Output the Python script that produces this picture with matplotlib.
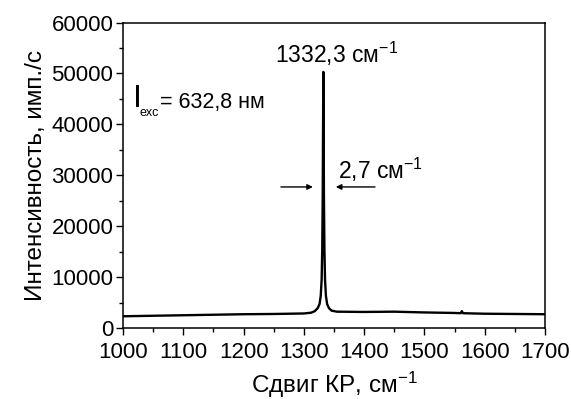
import matplotlib

matplotlib.use("Agg")
import matplotlib.pyplot as plt
from matplotlib.ticker import MultipleLocator

plt.rcParams.update({
    "font.family": ["Liberation Sans", "DejaVu Sans"],
    "mathtext.fontset": "custom",
    "mathtext.rm": "Liberation Sans",
    "mathtext.it": "Liberation Sans",
})

# Raman spectrum (shift in cm^-1, counts/s)
shift = [1000, 1050, 1100, 1150, 1200, 1250, 1300, 1312, 1318, 1323, 1326,
         1328, 1329.5, 1330.5, 1331.3, 1331.9, 1332.3, 1332.7, 1333.3, 1334.1,
         1335.1, 1336.6, 1338.6, 1341.6, 1346, 1355, 1400, 1450, 1500, 1550,
         1560, 1562, 1564, 1600, 1650, 1700]
intensity = [2300, 2400, 2500, 2600, 2700, 2750, 2850, 3000, 3300, 3900, 4700,
             6300, 9500, 15500, 26000, 41000, 50300, 41000, 26000, 15500,
             9500, 6300, 4700, 3900, 3400, 3200, 3150, 3200, 3050, 2950,
             2900, 3300, 2900, 2800, 2750, 2700]

peak_label = "1332,3 см$^{-1}$"
fwhm_label = "2,7 см$^{-1}$"

fig = plt.figure(figsize=(5.71, 3.99), dpi=100)
ax = fig.add_axes([0.2154, 0.178, 0.7391, 0.7656])
ax.plot(shift, intensity, color="black", lw=1.7)

ax.set_xlim(1000, 1700)
ax.set_ylim(0, 60000)
ax.xaxis.set_major_locator(MultipleLocator(100))
ax.xaxis.set_minor_locator(MultipleLocator(50))
ax.yaxis.set_major_locator(MultipleLocator(10000))
ax.yaxis.set_minor_locator(MultipleLocator(5000))
ax.tick_params(which="major", direction="out", length=5, width=1, labelsize=16, pad=2)
ax.tick_params(axis="x", which="major", pad=5)
ax.tick_params(which="minor", direction="out", length=3, width=1)
for s in ax.spines.values():
    s.set_linewidth(1.1)

ax.set_xlabel("Сдвиг КР, см$^{-1}$", fontsize=17.5, labelpad=5)
ax.set_ylabel("Интенсивность, имп./с", fontsize=17.5, labelpad=3)

ax.text(1252, 53900, peak_label, fontsize=16.5, va="center", ha="left")
ax.text(1016, 44900, "I", fontsize=23, va="center", ha="left")
ax.text(1028, 42300, "exc", fontsize=9, va="center", ha="left")
ax.text(1062, 44300, "= 632,8 нм", fontsize=15.5, va="center", ha="left")

ax.text(1356, 28300, fwhm_label, fontsize=16.5, va="bottom", ha="left")
arrow = dict(arrowstyle="-|>", color="black", lw=1, mutation_scale=8, shrinkA=0, shrinkB=0)
ax.annotate("", xy=(1315, 27700), xytext=(1262, 27700), arrowprops=arrow)
ax.annotate("", xy=(1353, 27700), xytext=(1418, 27700), arrowprops=arrow)

fig.savefig("out.png", dpi=100)
